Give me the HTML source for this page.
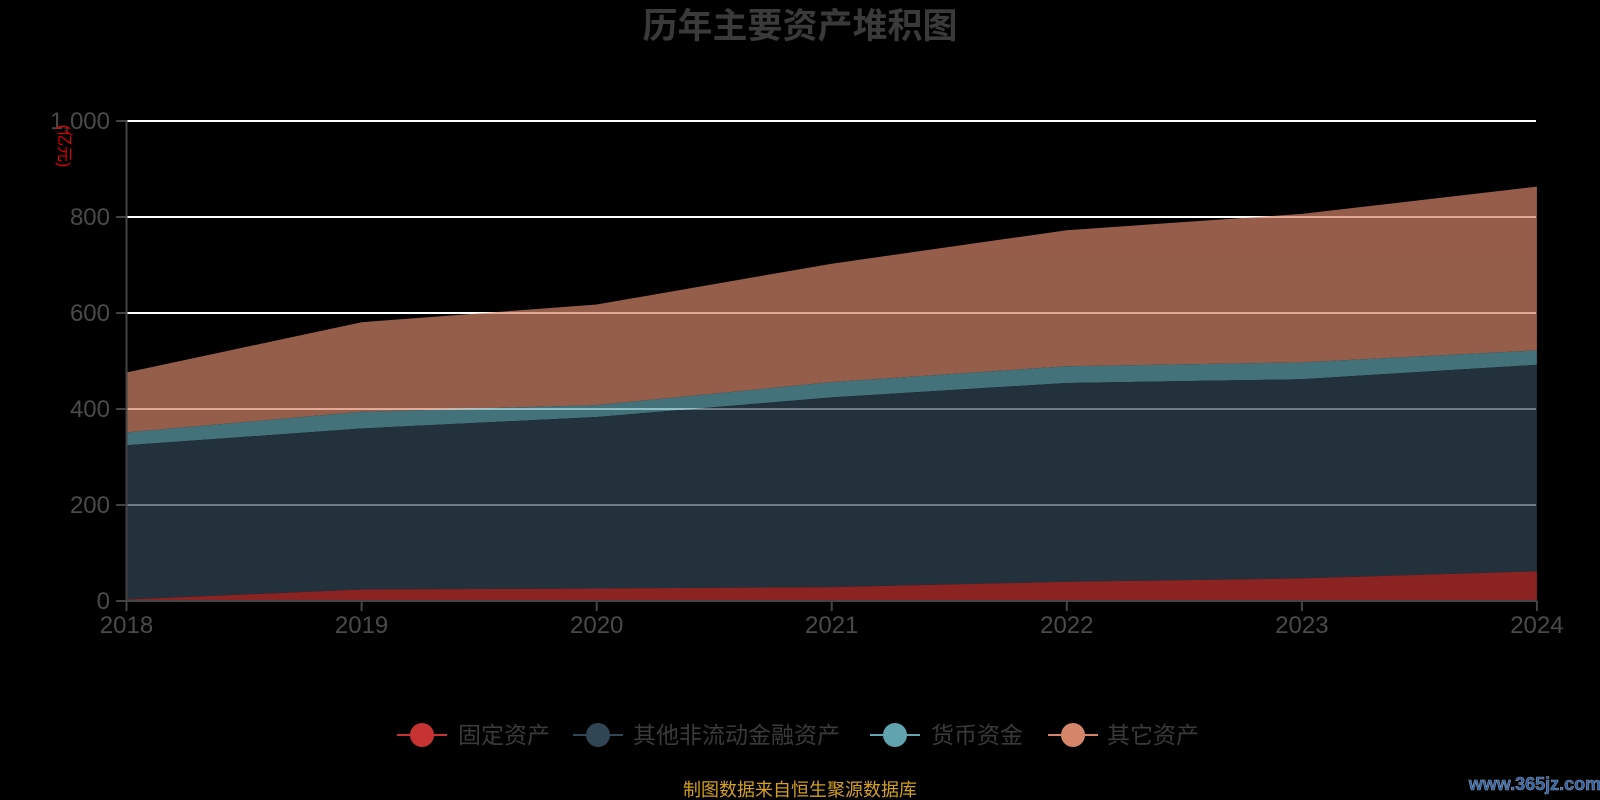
<!DOCTYPE html>
<html><head><meta charset="utf-8"><style>html,body{margin:0;padding:0;background:#000;}svg{display:block}</style></head>
<body>
<svg width="1600" height="800" xmlns="http://www.w3.org/2000/svg" font-family="'Liberation Sans','Noto Sans CJK SC',sans-serif">
<rect width="1600" height="800" fill="#000"/>
<text x="800" y="38" text-anchor="middle" font-size="35" font-weight="bold" fill="#3a3a3a">历年主要资产堆积图</text>
<g stroke="#ffffff" stroke-width="2">
<line x1="126" y1="121" x2="1536" y2="121"/>
<line x1="126" y1="217" x2="1536" y2="217"/>
<line x1="126" y1="313" x2="1536" y2="313"/>
<line x1="126" y1="409" x2="1536" y2="409"/>
<line x1="126" y1="505" x2="1536" y2="505"/>
</g>
<g opacity="0.7">
<polygon fill="#d5866a" points="126.5,372.5 361.6,322.2 596.7,304.5 831.7,263.7 1066.8,230.2 1301.9,213.9 1536.9,186.6 1536.9,350.4 1301.9,362.4 1066.8,366.2 831.7,382.1 596.7,405.1 361.6,411.8 126.5,432.4"/>
<polygon fill="#61a3ae" points="126.5,432.4 361.6,411.8 596.7,405.1 831.7,382.1 1066.8,366.2 1301.9,362.4 1536.9,350.4 1536.9,364.8 1301.9,379.2 1066.8,383.0 831.7,397.4 596.7,417.0 361.6,428.5 126.5,445.3"/>
<polygon fill="#314654" points="126.5,445.3 361.6,428.5 596.7,417.0 831.7,397.4 1066.8,383.0 1301.9,379.2 1536.9,364.8 1536.9,571.3 1301.9,578.4 1066.8,581.8 831.7,587.1 596.7,588.5 361.6,589.5 126.5,599.5"/>
<polygon fill="#c73232" points="126.5,599.5 361.6,589.5 596.7,588.5 831.7,587.1 1066.8,581.8 1301.9,578.4 1536.9,571.3 1536.9,601 126.5,601"/>
</g>
<g stroke="#444" stroke-width="2">
<line x1="126.5" y1="120" x2="126.5" y2="601"/>
<line x1="126" y1="601" x2="1537" y2="601"/>
<line x1="116" y1="121" x2="126" y2="121"/><line x1="116" y1="217" x2="126" y2="217"/><line x1="116" y1="313" x2="126" y2="313"/><line x1="116" y1="409" x2="126" y2="409"/><line x1="116" y1="505" x2="126" y2="505"/><line x1="116" y1="601" x2="126" y2="601"/>
<line x1="126.5" y1="601" x2="126.5" y2="611"/><line x1="361.6" y1="601" x2="361.6" y2="611"/><line x1="596.7" y1="601" x2="596.7" y2="611"/><line x1="831.7" y1="601" x2="831.7" y2="611"/><line x1="1066.8" y1="601" x2="1066.8" y2="611"/><line x1="1301.9" y1="601" x2="1301.9" y2="611"/><line x1="1536.9" y1="601" x2="1536.9" y2="611"/>
</g>
<g font-size="24" fill="#4a4a4a" text-anchor="end">
<text x="110" y="129">1,000</text><text x="110" y="225">800</text><text x="110" y="321">600</text><text x="110" y="417">400</text><text x="110" y="513">200</text><text x="110" y="609">0</text>
</g>
<g font-size="24" fill="#4a4a4a" text-anchor="middle">
<text x="126.5" y="633">2018</text><text x="361.6" y="633">2019</text><text x="596.7" y="633">2020</text><text x="831.7" y="633">2021</text><text x="1066.8" y="633">2022</text><text x="1301.9" y="633">2023</text><text x="1536.9" y="633">2024</text>
</g>
<text transform="translate(59,146) rotate(90)" font-size="16" fill="#e00000" text-anchor="middle">(亿元)</text>
<g font-size="23" fill="#3a3a3a">
<line x1="397" y1="735" x2="447" y2="735" stroke="#c73232" stroke-width="2"/><ellipse cx="422" cy="735" rx="12" ry="12" fill="#c73232"/><text x="458" y="743">固定资产</text>
<line x1="573" y1="735" x2="623" y2="735" stroke="#314654" stroke-width="2"/><ellipse cx="598" cy="735" rx="12" ry="12" fill="#314654"/><text x="633" y="743">其他非流动金融资产</text>
<line x1="870" y1="735" x2="920" y2="735" stroke="#61a3ae" stroke-width="2"/><ellipse cx="895" cy="735" rx="12" ry="12" fill="#61a3ae"/><text x="931" y="743">货币资金</text>
<line x1="1048" y1="735" x2="1098" y2="735" stroke="#d5866a" stroke-width="2"/><ellipse cx="1073" cy="735" rx="12" ry="12" fill="#d5866a"/><text x="1107" y="743">其它资产</text>
</g>
<text x="800" y="796" text-anchor="middle" font-size="18" fill="#d4a020">制图数据来自恒生聚源数据库</text>
<text x="1535" y="790" text-anchor="middle" font-size="18" font-weight="bold" fill="#2a5ea8" stroke="#8899aa" stroke-width="0.6">www.365jz.com</text>
</svg>
</body></html>
